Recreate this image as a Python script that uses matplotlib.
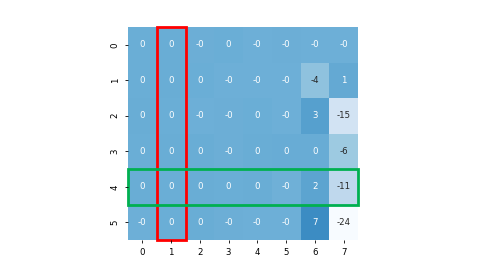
import numpy as np
import matplotlib
matplotlib.use("Agg")
import matplotlib.pyplot as plt
import seaborn as sns
from matplotlib.patches import Rectangle

# valores de la matriz (los "0"/"-0" son valores pequeños redondeados)
row_labels = ["0", "1", "2", "3", "4", "5"]
col_labels = ["0", "1", "2", "3", "4", "5", "6", "7"]
fila0 = [0.1, 0.2, -0.1, 0.1, -0.2, -0.1, -0.3, -0.2]
fila1 = [0.1, 0.2, 0.1, -0.2, -0.2, -0.3, -4.2, 1.0]
fila2 = [0.2, 0.1, -0.2, -0.1, 0.1, -0.3, 3.1, -15.0]
fila3 = [0.1, 0.2, 0.3, -0.1, 0.2, 0.4, 0.4, -6.0]
fila4 = [0.2, 0.1, 0.2, 0.1, 0.2, -0.4, 2.1, -11.0]
fila5 = [-0.2, 0.1, 0.2, -0.1, -0.2, -0.3, 7.0, -24.0]
matriz = np.array([fila0, fila1, fila2, fila3, fila4, fila5])

col_resaltada = 1
fila_resaltada = 4

fig = plt.figure(figsize=(4.91, 2.76), dpi=100)
ax = fig.add_axes([128 / 491, 36 / 276, 230 / 491, 213 / 276])

sns.heatmap(matriz, ax=ax, cmap="Blues", vmin=-24, vmax=24, annot=True, fmt=".0f",
            cbar=False, annot_kws={"fontsize": 6.2},
            xticklabels=col_labels, yticklabels=row_labels)

ax.tick_params(labelsize=6.2, length=2.5, width=0.6)
plt.setp(ax.get_yticklabels(), rotation=90, va="center")

# Rectángulos de resaltado
ax.add_patch(Rectangle((col_resaltada, 0), 1, matriz.shape[0], fill=False,
                       edgecolor="red", lw=2, clip_on=False))
ax.add_patch(Rectangle((0, fila_resaltada), matriz.shape[1], 1, fill=False,
                       edgecolor="#00b050", lw=2, clip_on=False))

fig.savefig("out.png", dpi=100)
